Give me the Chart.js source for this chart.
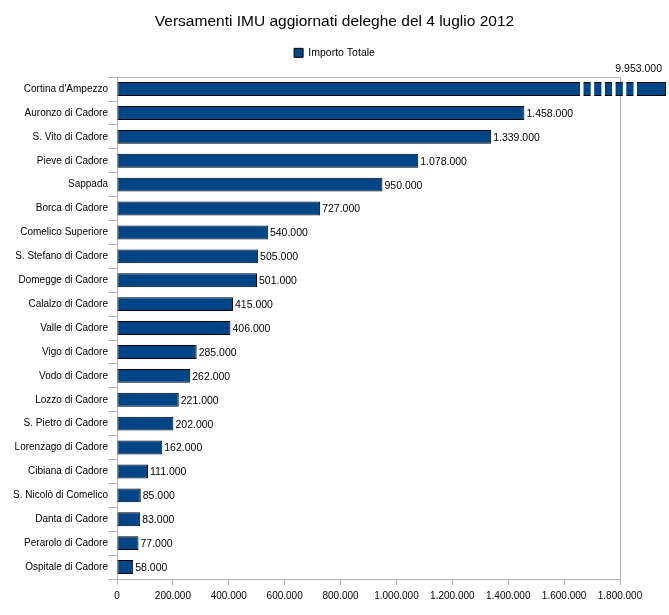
<!DOCTYPE html>
<html>
<head>
<meta charset="utf-8">
<script src="https://cdn.jsdelivr.net/npm/chart.js@4/dist/chart.umd.min.js"></script>
<style>
  html, body { margin: 0; padding: 0; background: #fff; }
  #wrap { width: 669px; height: 615px; }
</style>
</head>
<body>
<div id="wrap"><canvas id="myChart"></canvas></div>
<script>
// Comuni (categorie) e importi
const comuni = [
  "Cortina d'Ampezzo", "Auronzo di Cadore", "S. Vito di Cadore", "Pieve di Cadore",
  "Sappada", "Borca di Cadore", "Comelico Superiore", "S. Stefano di Cadore",
  "Domegge di Cadore", "Calalzo di Cadore", "Valle di Cadore", "Vigo di Cadore",
  "Vodo di Cadore", "Lozzo di Cadore", "S. Pietro di Cadore", "Lorenzago di Cadore",
  "Cibiana di Cadore", "S. Nicolò di Comelico", "Danta di Cadore", "Perarolo di Cadore",
  "Ospitale di Cadore"
];
const importi = [
  9953000, 1458000, 1339000, 1078000, 950000, 727000, 540000, 505000,
  501000, 415000, 406000, 285000, 262000, 221000, 202000, 162000,
  111000, 85000, 83000, 77000, 58000
];
const asseMax = 1800000;
const asseStep = 200000;

const grigio = "#b3b3b3";
const font = "'Liberation Sans', Arial, sans-serif";

function fmt(v) {
  return String(v).replace(/\B(?=(\d{3})+(?!\d))/g, ".");
}

// etichette dei valori + barra interrotta per i valori fuori scala
const etichette = {
  id: "etichette",
  beforeInit(chart) {
    // spazio in più sotto la legenda
    const fit = chart.legend.fit;
    chart.legend.fit = function () {
      fit.call(this);
      this.height += 9;
    };
  },
  beforeDatasetsDraw(chart) {
    // bordo superiore e destro dell'area del grafico
    const ctx = chart.ctx;
    const a = chart.chartArea;
    ctx.save();
    ctx.strokeStyle = grigio;
    ctx.lineWidth = 1;
    ctx.beginPath();
    ctx.moveTo(a.left, Math.round(a.top) + 0.5);
    ctx.lineTo(Math.round(a.right) + 0.5, Math.round(a.top) + 0.5);
    ctx.lineTo(Math.round(a.right) + 0.5, a.bottom);
    ctx.stroke();
    ctx.restore();
  },
  afterDatasetsDraw(chart) {
    const ctx = chart.ctx;
    const area = chart.chartArea;
    const meta = chart.getDatasetMeta(0);
    const max = chart.scales.x.max;
    ctx.save();
    ctx.font = "10.5px " + font;
    meta.data.forEach((bar, i) => {
      const v = importi[i];
      if (v > max) {
        const fine = area.right + 45;
        const h = bar.height;
        // interruzioni bianche
        ctx.fillStyle = "#fff";
        for (let k = 0; k < 6; k++) {
          const gx = area.right - 40 + k * 10.7;
          ctx.fillRect(gx, bar.y - h / 2 - 1, 3.5, h + 2);
        }
        ctx.strokeStyle = "#000";
        ctx.lineWidth = 1;
        ctx.beginPath();
        ctx.moveTo(fine + 0.5, bar.y - h / 2);
        ctx.lineTo(fine + 0.5, bar.y + h / 2);
        ctx.stroke();
        ctx.fillStyle = "#000";
        ctx.textAlign = "right";
        ctx.textBaseline = "middle";
        ctx.fillText(fmt(v), fine - 3, bar.y - 20);
      } else {
        ctx.fillStyle = "#000";
        ctx.textAlign = "left";
        ctx.textBaseline = "middle";
        ctx.fillText(fmt(v), bar.x + 2, bar.y + 1);
      }
    });
    ctx.restore();
  }
};

const config = {
  type: "bar",
  data: {
    labels: comuni,
    datasets: [{
      label: "Importo Totale",
      data: importi,
      backgroundColor: "#004586",
      borderColor: "#000",
      borderWidth: 1,
      borderSkipped: false,
      categoryPercentage: 1,
      barPercentage: 0.58,
      clip: { left: 0, top: 0, right: 45, bottom: 0 }
    }]
  },
  options: {
    indexAxis: "y",
    responsive: true,
    maintainAspectRatio: false,
    animation: false,
    layout: { padding: 0 },
    plugins: {
      title: {
        display: true,
        text: "Versamenti IMU aggiornati deleghe del 4 luglio 2012",
        color: "#000",
        font: { family: font, size: 15.5, weight: "normal" },
        padding: { top: 12, bottom: 7 }
      },
      legend: {
        display: true,
        labels: {
          color: "#000",
          font: { family: font, size: 10.5 },
          boxWidth: 9,
          boxHeight: 9,
          padding: 10
        }
      },
      tooltip: { enabled: false }
    },
    scales: {
      x: {
        min: 0,
        max: asseMax,
        ticks: {
          stepSize: asseStep,
          color: "#000",
          font: { family: font, size: 10 },
          padding: 5,
          maxRotation: 0,
          callback: (v) => fmt(v)
        },
        grid: { drawOnChartArea: false, tickColor: grigio, tickLength: 6, color: grigio },
        border: { color: grigio },
        afterFit: (s) => { s.height = 36; }
      },
      y: {
        ticks: {
          color: "#000",
          font: { family: font, size: 10 },
          padding: 0,
          autoSkip: false
        },
        grid: { offset: true, drawOnChartArea: false, tickColor: grigio, tickLength: 9, color: grigio },
        border: { color: grigio },
        afterFit: (s) => { s.width = 117; }
      },
      // asse vuoto a destra: lascia spazio per la barra fuori scala
      yDestra: {
        position: "right",
        display: true,
        ticks: { display: false },
        grid: { display: false },
        border: { display: false },
        afterFit: (s) => { s.width = 49; }
      }
    }
  },
  plugins: [etichette]
};

let myChart = new Chart(document.getElementById("myChart"), config);
</script>
</body>
</html>
